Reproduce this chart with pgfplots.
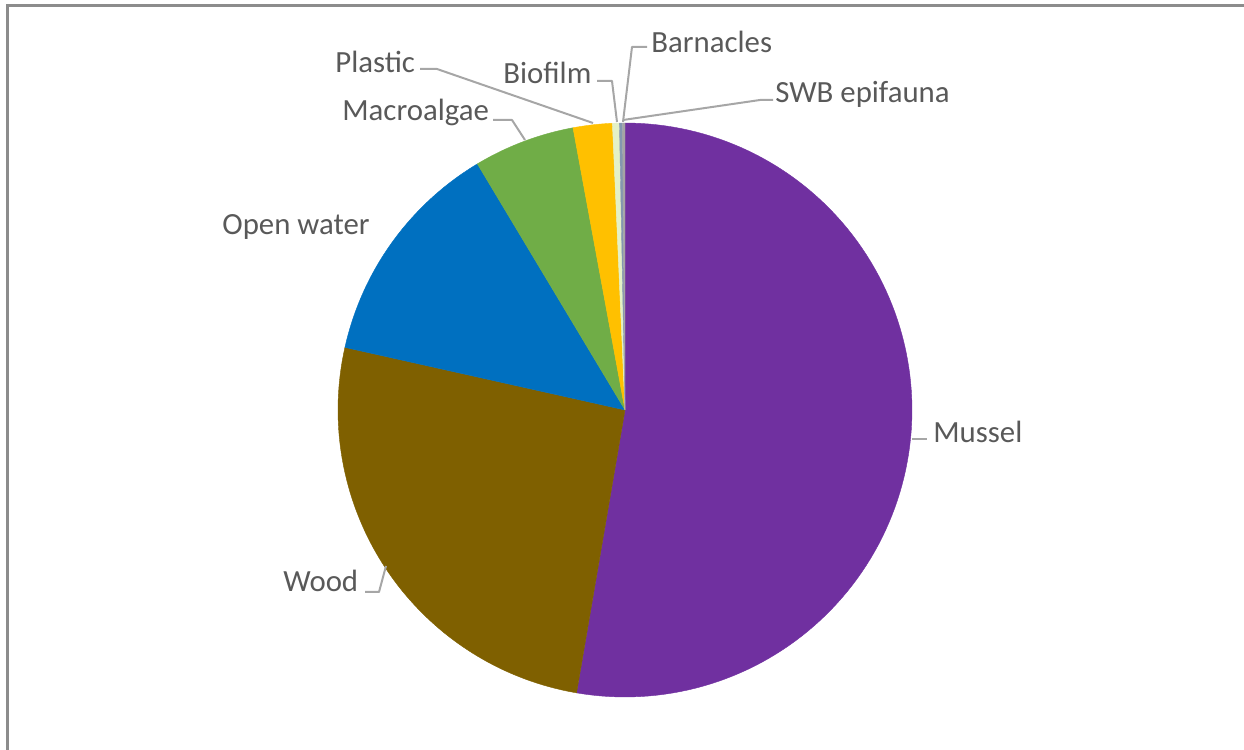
\documentclass[border=0pt]{standalone}
\usepackage{pgfplots}
\pgfplotsset{compat=1.18}
\usepackage{fontspec}
\setmainfont{Carlito}
\definecolor{cMussel}{HTML}{7030A0}
\definecolor{cWood}{HTML}{7F6000}
\definecolor{cOpen}{HTML}{0070C0}
\definecolor{cMacro}{HTML}{70AD47}
\definecolor{cPlastic}{HTML}{FFC000}
\definecolor{cBiofilm}{HTML}{E4F1C6}
\definecolor{cBarn}{HTML}{8497B0}
\definecolor{cSWB}{HTML}{A5A5A5}
\definecolor{txt}{HTML}{595959}
\definecolor{lead}{HTML}{A6A6A6}
\definecolor{frame}{HTML}{8C8C8C}
% shares (percent), clockwise from 12 o'clock:
% Mussel 52.6, Wood 25.9, Open water 12.9, Macroalgae 5.7, Plastic 2.2,
% Biofilm 0.39, Barnacles 0.17, SWB epifauna 0.14
\begin{document}
\begin{tikzpicture}
\useasboundingbox (0,0) rectangle (622pt,375pt);
\begin{axis}[
  scale only axis, width=622pt, height=375pt,
  xmin=0, xmax=1244, ymin=0, ymax=750,
  hide axis, clip=false,
  every axis plot/.append style={line join=round},
]
% slices: domain in degrees (math angle = 90 - 3.6*cumulative percent)
\addplot[fill=cMussel, draw=cMussel, line width=0.2pt, domain={90-3.6*52.7}:{90-3.6*0}, samples=120, variable=\t]
  ({625+287*cos(t)},{340+287*sin(t)}) -- (axis cs:625,340) -- cycle;
\addplot[fill=cWood, draw=cWood, line width=0.2pt, domain={90-3.6*78.5}:{90-3.6*52.7}, samples=80, variable=\t]
  ({625+287*cos(t)},{340+287*sin(t)}) -- (axis cs:625,340) -- cycle;
\addplot[fill=cOpen, draw=cOpen, line width=0.2pt, domain={90-3.6*91.4}:{90-3.6*78.5}, samples=60, variable=\t]
  ({625+287*cos(t)},{340+287*sin(t)}) -- (axis cs:625,340) -- cycle;
\addplot[fill=cMacro, draw=cMacro, line width=0.2pt, domain={90-3.6*97.1}:{90-3.6*91.4}, samples=40, variable=\t]
  ({625+287*cos(t)},{340+287*sin(t)}) -- (axis cs:625,340) -- cycle;
\addplot[fill=cPlastic, draw=cPlastic, line width=0.2pt, domain={90-3.6*99.3}:{90-3.6*97.1}, samples=20, variable=\t]
  ({625+287*cos(t)},{340+287*sin(t)}) -- (axis cs:625,340) -- cycle;
\addplot[fill=cBiofilm, draw=cBiofilm, line width=0.2pt, domain={90-3.6*99.69}:{90-3.6*99.3}, samples=10, variable=\t]
  ({625+287*cos(t)},{340+287*sin(t)}) -- (axis cs:625,340) -- cycle;
\addplot[fill=cBarn, draw=cBarn, line width=0.2pt, domain={90-3.6*99.86}:{90-3.6*99.69}, samples=5, variable=\t]
  ({625+287*cos(t)},{340+287*sin(t)}) -- (axis cs:625,340) -- cycle;
\addplot[fill=cSWB, draw=cSWB, line width=0.2pt, domain={90-3.6*100}:{90-3.6*99.86}, samples=5, variable=\t]
  ({625+287*cos(t)},{340+287*sin(t)}) -- (axis cs:625,340) -- cycle;

% leader lines
\addplot[lead, line width=1pt, no marks] coordinates {(912,311) (927,311)};
\addplot[lead, line width=1pt, no marks] coordinates {(365,158) (379,158) (386,184)};
\addplot[lead, line width=1pt, no marks] coordinates {(493,630) (512,630) (525,610)};
\addplot[lead, line width=1pt, no marks] coordinates {(420,681) (437,681) (593,627)};
\addplot[lead, line width=1pt, no marks] coordinates {(597,669) (612,669) (617,628)};
\addplot[lead, line width=1pt, no marks] coordinates {(647,703) (632,703) (623,628)};
\addplot[lead, line width=1pt, no marks] coordinates {(773,650) (760,650) (623,630)};

% labels
\begin{scope}[every node/.style={text=txt, font=\fontsize{15.4}{18}\selectfont, inner sep=0pt, anchor=west}]
\node at (axis cs:933,318) {Mussel};
\node at (axis cs:283,169) {Wood};
\node at (axis cs:222,523) {Open water};
\node at (axis cs:342,638) {Macroalgae};
\node at (axis cs:335,688) {Plastic};
\node at (axis cs:503,677) {Biofilm};
\node at (axis cs:651,708) {Barnacles};
\node at (axis cs:775,656) {SWB epifauna};
\end{scope}

% chart frame (left and top edges visible)
\draw[frame, line width=1.2pt] (axis cs:7.5,-10) -- (axis cs:7.5,744.3) -- (axis cs:1260,744.3);
\end{axis}
\end{tikzpicture}
\end{document}
